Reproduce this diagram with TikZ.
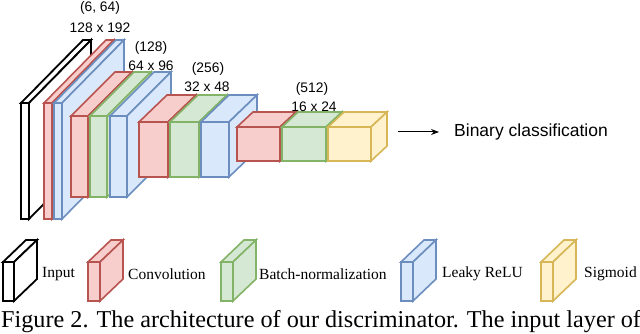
\documentclass[tikz,border=0pt]{standalone}
\usepackage{fontspec}
\setmainfont{Liberation Serif}
\newfontfamily\lsans{Liberation Sans}
\usetikzlibrary{arrows.meta}
\definecolor{rS}{HTML}{B85450}\definecolor{rF}{HTML}{F8CECC}
\definecolor{gS}{HTML}{82B366}\definecolor{gF}{HTML}{D5E8D4}
\definecolor{bS}{HTML}{6C8EBF}\definecolor{bF}{HTML}{DAE8FC}
\definecolor{yS}{HTML}{D6B656}\definecolor{yF}{HTML}{FFF2CC}
\tikzset{
  inp/.style={draw=black,fill=white,line width=1.8pt},
  conv/.style={draw=rS,fill=rF,line width=1.6pt},
  bn/.style={draw=gS,fill=gF,line width=1.6pt},
  relu/.style={draw=bS,fill=bF,line width=1.6pt},
  sig/.style={draw=yS,fill=yF,line width=1.6pt},
  dimlbl/.style={font=\lsans\fontsize{13.8}{15}\selectfont,inner sep=0pt},
  leglbl/.style={font=\fontsize{15.5}{17}\selectfont,inner sep=0pt,anchor=west},
}
% style, x1, y1, x2, y2, dx, dy
\newcommand\mycuboid[7]{%
  \filldraw[#1] (#2,#3) rectangle (#4,#5);
  \filldraw[#1] (#2,#3) -- (#2+#6,#3-#7) -- (#4+#6,#3-#7) -- (#4,#3) -- cycle;
  \filldraw[#1] (#4,#3) -- (#4+#6,#3-#7) -- (#4+#6,#5-#7) -- (#4,#5) -- cycle;
}
\begin{document}
\begin{tikzpicture}[x=1pt,y=-1pt,line join=miter]
\useasboundingbox (0,0) rectangle (640,334);
% group 1
\mycuboid{inp}{21}{103}{29}{219}{62}{63}
\mycuboid{conv}{44}{103}{52}{219}{62}{63}
\mycuboid{relu}{54}{103}{62}{219}{62}{63}
% group 2
\mycuboid{conv}{71}{116}{88}{197}{44}{44}
\mycuboid{bn}{90}{116}{107}{197}{44}{44}
\mycuboid{relu}{110}{116}{127}{197}{44}{44}
% group 3
\mycuboid{conv}{139}{122}{168}{177}{28}{27}
\mycuboid{bn}{170}{122}{199}{177}{28}{27}
\mycuboid{relu}{201}{122}{229}{177}{28}{27}
% group 4
\mycuboid{conv}{237}{127}{280}{161}{16}{15}
\mycuboid{bn}{282}{127}{326}{161}{16}{15}
\mycuboid{sig}{328}{127}{371}{161}{16}{15}
% dimension labels
\node[dimlbl] (c1) at (100,8) {(6, 64)};
\node[dimlbl] (s1) at (100,28) {128 x 192};
\node[dimlbl] (c2) at (151,48) {(128)};
\node[dimlbl] (s2) at (151,66) {64 x 96};
\node[dimlbl] (c3) at (208,69) {(256)};
\node[dimlbl] (s3) at (207,87) {32 x 48};
\node[dimlbl] (c4) at (312,89) {(512)};
\node[dimlbl] (s4) at (314,107) {16 x 24};
% output
\coordinate (a1) at (398,132);
\node[font=\lsans\fontsize{17.5}{19}\selectfont,inner sep=0pt,anchor=west] (bc) at (454,132) {Binary classification};
\draw[line width=1pt,-{Stealth[length=8pt,width=6pt]}] (a1) -- ([xshift=-15pt]bc.west);
% legend
\mycuboid{inp}{3}{262}{14}{301}{23}{22}
\node[leglbl] (l1) at (42,274) {Input};
\mycuboid{conv}{88}{262}{100}{301}{23}{22}
\node[leglbl] (l2) at (128,274) {Convolution};
\mycuboid{bn}{221}{262}{233}{301}{23}{22}
\node[leglbl] (l3) at (259,274) {Batch-normalization};
\mycuboid{relu}{401}{262}{413}{301}{23}{22}
\node[leglbl] (l4) at (442,274) {Leaky ReLU};
\mycuboid{sig}{541}{262}{553}{301}{23}{22}
\node[leglbl] (l5) at (584,274) {Sigmoid};
% caption
\node[font=\fontsize{24.2}{26}\selectfont,inner sep=0pt,anchor=base west] (cap) at (1,327) {Figure 2. The architecture of our discriminator. The input layer of};
\end{tikzpicture}
\end{document}
